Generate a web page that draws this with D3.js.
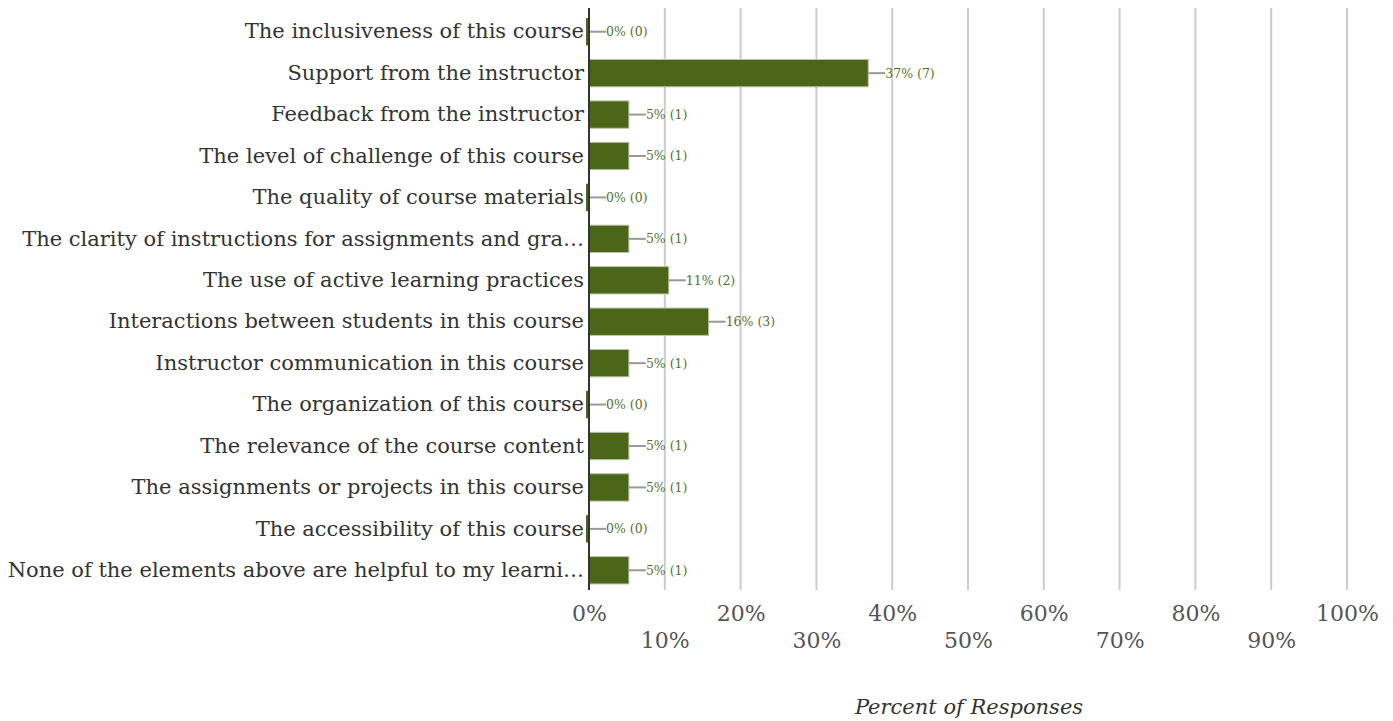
<!DOCTYPE html>
<html>
<head>
<meta charset="utf-8">
<script src="https://cdn.jsdelivr.net/npm/d3@7"></script>
<style>
  body { margin: 0; background: #fff; }
  svg { display: block; font-family: "DejaVu Serif", serif; }
</style>
</head>
<body>
<main></main>
<script>
const categories = [
  "The inclusiveness of this course",
  "Support from the instructor",
  "Feedback from the instructor",
  "The level of challenge of this course",
  "The quality of course materials",
  "The clarity of instructions for assignments and gra…",
  "The use of active learning practices",
  "Interactions between students in this course",
  "Instructor communication in this course",
  "The organization of this course",
  "The relevance of the course content",
  "The assignments or projects in this course",
  "The accessibility of this course",
  "None of the elements above are helpful to my learni…"
];
const counts = [0, 7, 1, 1, 0, 1, 2, 3, 1, 0, 1, 1, 0, 1];
const totalResponses = 19;
const tickValues = [0, 0.1, 0.2, 0.3, 0.4, 0.5, 0.6, 0.7, 0.8, 0.9, 1];

const width = 1393;
const height = 721;
const margin = { top: 10, right: 46, bottom: 131, left: 589 };
const barColor = "#4b6519";

const rows = categories.map((c, i) => ({
  name: c,
  count: counts[i],
  pct: counts[i] / totalResponses
}));

const svg = d3.select("main").append("svg").attr("width", width).attr("height", height);

const xScale = d3.scaleLinear().domain([0, 1]).range([margin.left, width - margin.right]);
const yScale = d3
  .scaleBand()
  .domain(categories)
  .range([margin.top + 1, height - margin.bottom + 1])
  .paddingInner(0.34)
  .paddingOuter(0.17);

// gridlines
svg
  .append("g")
  .selectAll("line")
  .data(tickValues.slice(1))
  .enter()
  .append("line")
  .attr("x1", (d) => xScale(d))
  .attr("x2", (d) => xScale(d))
  .attr("y1", 8)
  .attr("y2", height - margin.bottom)
  .attr("stroke", "#cccccc")
  .attr("stroke-width", 2);

// x tick labels, staggered on two rows
const xAxis = d3
  .axisBottom(xScale)
  .tickValues(tickValues)
  .tickFormat(d3.format(".0%"))
  .tickSize(0);

const xg = svg
  .append("g")
  .attr("transform", `translate(0, ${height - margin.bottom})`)
  .call(xAxis);
xg.select(".domain").remove();
xg.selectAll("text")
  .attr("y", (d, i) => (i % 2 === 0 ? 31 : 58))
  .attr("dy", 0)
  .style("font-family", "DejaVu Serif")
  .style("font-size", "22px")
  .attr("fill", "#555555");

// bars
const bars = svg.append("g").selectAll("g").data(rows).enter().append("g");

bars
  .filter((d) => d.count > 0)
  .append("rect")
  .attr("x", xScale(0))
  .attr("y", (d) => yScale(d.name))
  .attr("width", (d) => xScale(d.pct) - xScale(0))
  .attr("height", yScale.bandwidth())
  .attr("fill", barColor)
  .attr("stroke", "#b9c6a3")
  .attr("stroke-width", 1);

bars
  .filter((d) => d.count === 0)
  .append("rect")
  .attr("x", xScale(0) - 3)
  .attr("y", (d) => yScale(d.name))
  .attr("width", 2)
  .attr("height", yScale.bandwidth())
  .attr("fill", barColor);

// leader lines and value labels
bars
  .append("line")
  .attr("x1", (d) => xScale(d.pct))
  .attr("x2", (d) => xScale(d.pct) + 17)
  .attr("y1", (d) => yScale(d.name) + yScale.bandwidth() / 2)
  .attr("y2", (d) => yScale(d.name) + yScale.bandwidth() / 2)
  .attr("stroke", "#999999")
  .attr("stroke-width", 2);

bars
  .append("text")
  .attr("x", (d) => xScale(d.pct) + 17)
  .attr("y", (d) => yScale(d.name) + yScale.bandwidth() / 2)
  .attr("dy", "0.35em")
  .text((d) => `${Math.round(d.pct * 100)}% (${d.count})`)
  .style("font-size", "12.5px")
  .attr("fill", "#56702c");

// y axis
const yAxis = d3.axisLeft(yScale).tickSize(0).tickPadding(5);
const yg = svg.append("g").attr("transform", `translate(${margin.left}, 0)`).call(yAxis);
yg.select(".domain").remove();
yg.selectAll("text")
  .style("font-family", "DejaVu Serif")
  .style("font-size", "21px")
  .attr("fill", "#333333");

svg
  .append("line")
  .attr("x1", margin.left)
  .attr("x2", margin.left)
  .attr("y1", 8)
  .attr("y2", height - margin.bottom)
  .attr("stroke", "#333333")
  .attr("stroke-width", 2);

// axis title
svg
  .append("text")
  .attr("x", xScale(0.5) + 1)
  .attr("y", 714)
  .attr("text-anchor", "middle")
  .style("font-size", "21px")
  .style("font-style", "italic")
  .attr("fill", "#333333")
  .text("Percent of Responses");
</script>
</body>
</html>
